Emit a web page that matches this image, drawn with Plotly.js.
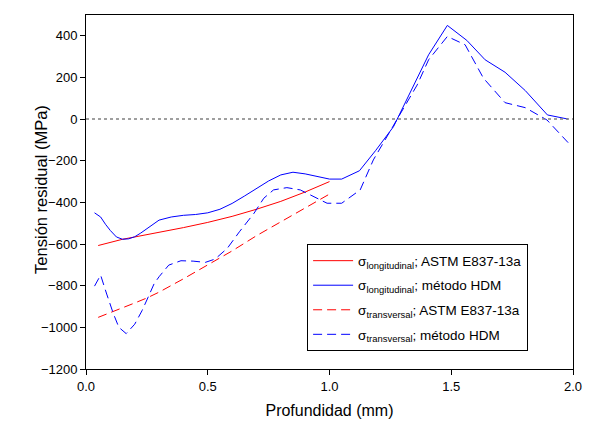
<!DOCTYPE html>
<html><head><meta charset="utf-8">
<script src="https://cdn.plot.ly/plotly-3.0.1.min.js"></script>
<style>html,body{margin:0;padding:0;background:#fff}</style>
</head><body>
<div id="chart" style="width:589px;height:426px"></div>
<script>
// Longitudinal, ASTM E837-13a
var longAstmX = [0.05,0.1,0.15,0.2,0.3,0.4,0.5,0.6,0.7,0.8,0.9,1.0];
var longAstmY = [-607,-591,-577,-566,-544,-521,-496,-467,-433,-395,-350,-300];
// Longitudinal, HDM
var longHdmX = [0.035,0.06,0.08,0.10,0.125,0.15,0.175,0.2,0.225,0.25,0.275,0.3,0.35,0.4,0.45,0.5,0.55,0.6,0.65,0.7,0.75,0.8,0.85,0.9,0.95,1.0,1.05,1.123,1.19,1.263,1.407,1.484,1.564,1.639,1.721,1.804,1.895,1.98];
var longHdmY = [-450,-470,-505,-535,-566,-577,-575,-565,-547,-525,-503,-485,-470,-462,-458,-450,-433,-405,-370,-335,-297,-268,-255,-263,-277,-288,-288,-248,-150,-36,309,450,378,285,225,137,20,0];
// Transversal, ASTM E837-13a
var transAstmX = [0.05,0.1,0.15,0.2,0.25,0.3,0.4,0.5,0.6,0.7,0.8,0.9,1.0];
var transAstmY = [-952,-930,-907,-883,-859,-831,-767,-700,-633,-560,-493,-427,-360];
// Transversal, HDM
var transHdmX = [0.035,0.06,0.085,0.112,0.135,0.165,0.2,0.23,0.256,0.28,0.3,0.34,0.39,0.44,0.49,0.53,0.58,0.63,0.69,0.73,0.77,0.825,0.88,0.935,0.99,1.05,1.126,1.18,1.263,1.36,1.407,1.484,1.557,1.632,1.721,1.804,1.893,1.98];
var transHdmY = [-802,-749,-840,-933,-1000,-1030,-985,-920,-853,-790,-757,-701,-680,-682,-688,-672,-621,-541,-452,-380,-340,-329,-340,-373,-404,-404,-340,-196,-28,164,285,397,357,197,79,55,-4,-113];

var xTicks = [0, 0.5, 1.0, 1.5, 2.0];
var yTicks = [-1200,-1000,-800,-600,-400,-200,0,200,400];

var names = [
  'σ<sub>longitudinal</sub>; ASTM E837-13a',
  'σ<sub>longitudinal</sub>; método HDM',
  'σ<sub>transversal</sub>; ASTM E837-13a',
  'σ<sub>transversal</sub>; método HDM'
];

var traces = [
  {x: longAstmX, y: longAstmY, name: names[0], legendgroup: 'a', mode: 'lines', line: {color: '#ff0000', width: 1}},
  {x: longHdmX, y: longHdmY, name: names[1], legendgroup: 'b', mode: 'lines', line: {color: '#0000ff', width: 1}},
  {x: transAstmX, y: transAstmY, name: names[2], legendgroup: 'c', mode: 'lines', line: {color: '#ff0000', width: 1, dash: '9px,5px'}},
  {x: transHdmX, y: transHdmY, name: names[3], legendgroup: 'd', mode: 'lines', line: {color: '#0000ff', width: 1, dash: '9px,5px'}}
];

var layout = {
  width: 589, height: 426,
  margin: {l: 86, r: 16, t: 15, b: 57},
  paper_bgcolor: '#fff', plot_bgcolor: '#fff',
  font: {family: 'Liberation Sans, Arial, sans-serif', size: 13, color: '#000'},
  showlegend: true,
  legend: {
    x: 0.454, y: 0.352, xanchor: 'left', yanchor: 'top',
    bordercolor: '#000', borderwidth: 1, bgcolor: '#fff',
    font: {size: 13.5, family: 'Liberation Sans, Arial, sans-serif'},
    traceorder: 'grouped', tracegroupgap: 4, itemwidth: 40
  },
  xaxis: {
    range: [0, 2.0], tickvals: xTicks, tickformat: '.1f',
    showgrid: false, zeroline: false, showline: true, linecolor: '#000', linewidth: 1,
    mirror: true, ticks: 'outside', ticklen: 5, tickcolor: '#000',
    title: {text: 'Profundidad (mm)', font: {size: 16}, standoff: 12}
  },
  yaxis: {
    range: [-1200, 500], tickvals: yTicks,
    showgrid: false, zeroline: false, showline: true, linecolor: '#000', linewidth: 1,
    mirror: true, ticks: 'outside', ticklen: 5, tickcolor: '#000'
  },
  annotations: [{
    text: 'Tensión residual (MPa)', xref: 'paper', yref: 'paper',
    x: -0.0924, y: 0.506, xanchor: 'center', yanchor: 'middle',
    textangle: -90, showarrow: false, font: {size: 16.5}
  }],
  shapes: [{
    type: 'line', xref: 'paper', yref: 'y', x0: 0, x1: 1, y0: 0, y1: 0,
    line: {color: '#808080', width: 1.5, dash: 'dot'}
  }]
};

Plotly.newPlot('chart', traces, layout, {displayModeBar: false, staticPlot: true});
</script>
</body></html>
